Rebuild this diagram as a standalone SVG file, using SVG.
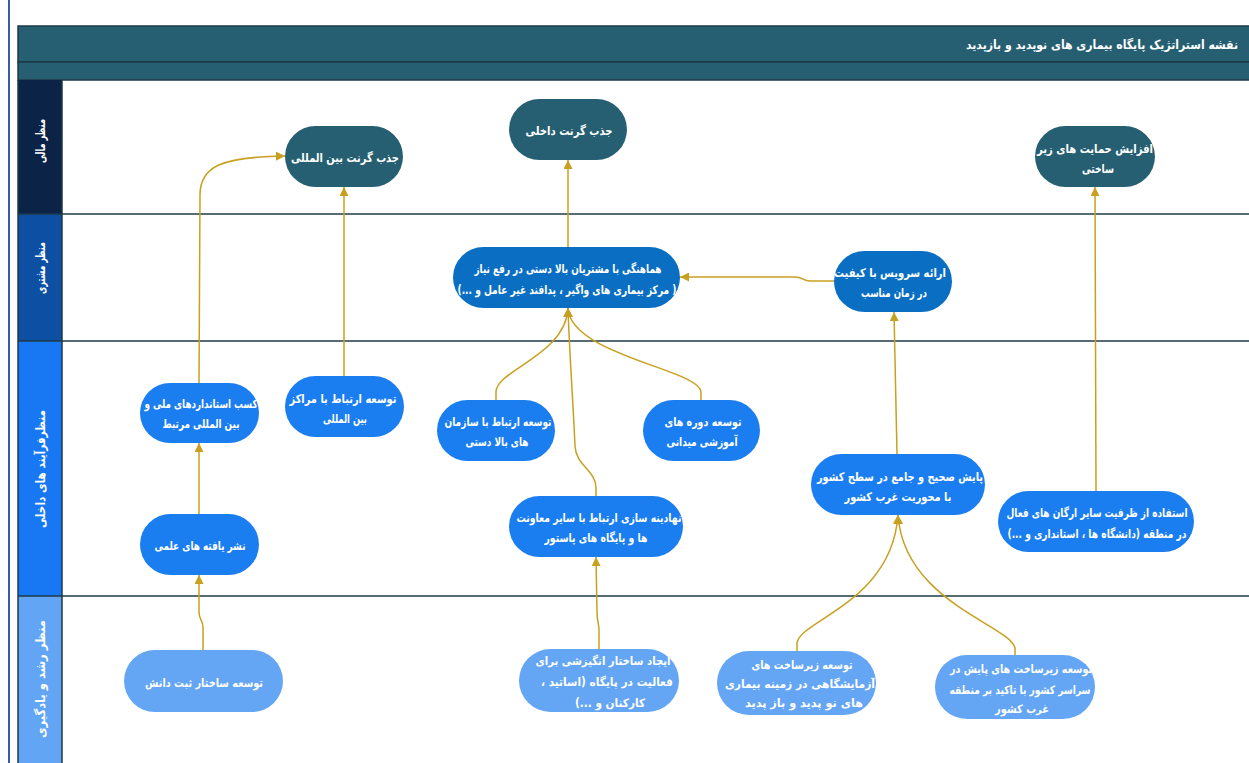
<svg xmlns="http://www.w3.org/2000/svg" width="1249" height="763" viewBox="0 0 1249 763">
<style>
.t{font-family:"DejaVu Sans Condensed","DejaVu Sans",sans-serif;font-weight:bold;fill:#fff;font-size:12px;text-anchor:middle}
.tc{font-family:"DejaVu Sans Condensed","DejaVu Sans",sans-serif;font-weight:bold;fill:#fff;font-size:11.5px;text-anchor:middle}
.lab{font-family:"DejaVu Sans Condensed","DejaVu Sans",sans-serif;font-weight:bold;fill:#fff;font-size:12.5px;text-anchor:middle}
.n1{fill:#265F72}
.n2{fill:#0A6FC2}
.n3{fill:#1A7DF0}
.n4{fill:#64A6F4}
.ln{stroke:#1E3A46;stroke-width:1.5;fill:none}
.c{fill:none;stroke:#C8A020;stroke-width:1.5;marker-end:url(#ah)}
</style>
<defs>
<marker id="ah" viewBox="0 0 10 10" refX="10" refY="5" markerWidth="9" markerHeight="9" markerUnits="userSpaceOnUse" orient="auto">
<path d="M0,0 L10,5 L0,10 z" fill="#C8A020"/>
</marker>
</defs>
<rect width="1249" height="763" fill="#fff"/>
<line x1="9" y1="0" x2="9" y2="763" stroke="#3A5BA0" stroke-width="2"/>
<g id="frame">
<rect x="18" y="26" width="1240" height="36" fill="#265F72" stroke="#1E3A46" stroke-width="1.5"/>
<rect x="18" y="62" width="1240" height="18" fill="#265F72" stroke="#1E3A46" stroke-width="1.5"/>
<text x="1238" y="49" textLength="272" lengthAdjust="spacingAndGlyphs" style="font-family:'DejaVu Sans Condensed','DejaVu Sans',sans-serif;font-weight:bold;fill:#fff;font-size:12.5px;text-anchor:end">نقشه استراتژیک پایگاه بیماری های نوپدید و بازپدید</text>
</g>
<g id="lanes">
<rect x="18" y="80" width="44" height="134" fill="#0A2346"/>
<rect x="18" y="214" width="44" height="127" fill="#0C4FA3"/>
<rect x="18" y="341" width="44" height="255" fill="#1877F2"/>
<rect x="18" y="596" width="44" height="170" fill="#62A5F4"/>
<line class="ln" x1="18" y1="80" x2="18" y2="763"/>
<line class="ln" x1="62" y1="80" x2="62" y2="763"/>
<line class="ln" x1="18" y1="214" x2="1249" y2="214"/>
<line class="ln" x1="18" y1="341" x2="1249" y2="341"/>
<line class="ln" x1="18" y1="596" x2="1249" y2="596"/>
<text class="lab" direction="rtl" textLength="44" lengthAdjust="spacingAndGlyphs" transform="translate(45,141) rotate(-90)">منظر مالی</text>
<text class="lab" direction="rtl" textLength="52" lengthAdjust="spacingAndGlyphs" transform="translate(45,268) rotate(-90)">منظر مشتری</text>
<text class="lab" direction="rtl" textLength="118" lengthAdjust="spacingAndGlyphs" transform="translate(45,469) rotate(-90)">منظرفرآیند های داخلی</text>
<text class="lab" direction="rtl" textLength="118" lengthAdjust="spacingAndGlyphs" transform="translate(45,679) rotate(-90)">منظر رشد و یادگیری</text>
</g>
<g id="connectors">
<path class="c" d="M199,514 L199,443"/>
<path class="c" d="M203,650 L203,627 C203,620 199,620 199,612 L199,575"/>
<path class="c" d="M199,383 L200,195 C200,166 222,157 285,156"/>
<path class="c" d="M344,376 L344,187"/>
<path class="c" d="M568,247 L568,160"/>
<path class="c" d="M835,281 L810,281 C803,281 803,277 795,277 L680,277"/>
<path class="c" d="M496,400 L496,392 C496,370 566,355 568,308"/>
<path class="c" d="M701,400 L701,392 C701,370 570,355 568,308"/>
<path class="c" d="M596,496 L596,488 C596,470 576,466 575,446 C573,400 569,345 568,308"/>
<path class="c" d="M599,649 L599,630 C599,624 597,622 597,612 L596,557"/>
<path class="c" d="M897,454 L894,312"/>
<path class="c" d="M797,651 L797,643 C800,620 892,602 898,515"/>
<path class="c" d="M1015,655 L1015,648 C1010,625 904,602 898,515"/>
<path class="c" d="M1096,491 L1095,187"/>
</g>
<g id="n-grant-intl"><rect class="n1" x="285" y="126" width="118" height="61" rx="30.5"/><text class="t" direction="rtl" x="345" y="162" textLength="108" lengthAdjust="spacingAndGlyphs">جذب گرنت بین المللی</text></g>
<g id="n-grant-dom"><rect class="n1" x="509" y="99" width="118" height="61" rx="30.5"/><text class="t" direction="rtl" x="569" y="135" textLength="87" lengthAdjust="spacingAndGlyphs">جذب گرنت داخلی</text></g>
<g id="n-infra-support"><rect class="n1" x="1035" y="126" width="120" height="61" rx="30.5"/><text class="t" direction="rtl" x="1095" y="153" textLength="116" lengthAdjust="spacingAndGlyphs">افزایش حمایت های زیر</text><text class="t" direction="rtl" x="1098" y="173" textLength="32" lengthAdjust="spacingAndGlyphs">ساختی</text></g>
<g id="n-coord"><rect class="n2" x="453" y="247" width="227" height="61" rx="30.5"/><text class="t" direction="rtl" x="568" y="273" textLength="187" lengthAdjust="spacingAndGlyphs">هماهنگی با مشتریان بالا دستی در رفع نیاز</text><text class="t" direction="rtl" x="567" y="294" textLength="219" lengthAdjust="spacingAndGlyphs">( مرکز بیماری های واگیر ، پدافند غیر عامل و ...)</text></g>
<g id="n-service"><rect class="n2" x="834" y="251" width="118" height="61" rx="30.5"/><text class="t" direction="rtl" x="890" y="277" textLength="112" lengthAdjust="spacingAndGlyphs">ارائه سرویس با کیفیت</text><text class="t" direction="rtl" x="894" y="297" textLength="66" lengthAdjust="spacingAndGlyphs">در زمان مناسب</text></g>
<g id="n-standards"><rect class="n3" x="140" y="383" width="119" height="60" rx="30"/><text class="t" direction="rtl" x="201" y="408" textLength="113" lengthAdjust="spacingAndGlyphs">کسب استانداردهای ملی و</text><text class="t" direction="rtl" x="201" y="428" textLength="77" lengthAdjust="spacingAndGlyphs">بین المللی مرتبط</text></g>
<g id="n-intl-centers"><rect class="n3" x="285" y="376" width="119" height="61" rx="30.5"/><text class="t" direction="rtl" x="343" y="403" textLength="107" lengthAdjust="spacingAndGlyphs">توسعه ارتباط با مراکز</text><text class="t" direction="rtl" x="345" y="423" textLength="44" lengthAdjust="spacingAndGlyphs">بین المللی</text></g>
<g id="n-upstream-org"><rect class="n3" x="437" y="400" width="118" height="61" rx="30.5"/><text class="t" direction="rtl" x="498" y="426" textLength="107" lengthAdjust="spacingAndGlyphs">توسعه ارتباط با سازمان</text><text class="t" direction="rtl" x="497" y="446" textLength="63" lengthAdjust="spacingAndGlyphs">های بالا دستی</text></g>
<g id="n-field-courses"><rect class="n3" x="643" y="400" width="117" height="61" rx="30.5"/><text class="t" direction="rtl" x="703" y="426" textLength="77" lengthAdjust="spacingAndGlyphs">توسعه دوره های</text><text class="t" direction="rtl" x="702" y="446" textLength="71" lengthAdjust="spacingAndGlyphs">آموزشی میدانی</text></g>
<g id="n-institutional"><rect class="n3" x="509" y="496" width="174" height="61" rx="30.5"/><text class="t" direction="rtl" x="599" y="522" textLength="165" lengthAdjust="spacingAndGlyphs">نهادینه سازی ارتباط با سایر معاونت</text><text class="t" direction="rtl" x="596" y="542" textLength="103" lengthAdjust="spacingAndGlyphs">ها و پایگاه های پاستور</text></g>
<g id="n-monitoring"><rect class="n3" x="811" y="454" width="174" height="61" rx="30.5"/><text class="t" direction="rtl" x="900" y="481" textLength="166" lengthAdjust="spacingAndGlyphs">پایش صحیح و جامع در سطح کشور</text><text class="t" direction="rtl" x="898" y="501" textLength="107" lengthAdjust="spacingAndGlyphs">با محوریت غرب کشور</text></g>
<g id="n-capacity"><rect class="n3" x="998" y="491" width="196" height="61" rx="30.5"/><text class="t" direction="rtl" x="1097" y="517" textLength="181" lengthAdjust="spacingAndGlyphs">استفاده از ظرفیت سایر ارگان های فعال</text><text class="t" direction="rtl" x="1097" y="538" textLength="179" lengthAdjust="spacingAndGlyphs">در منطقه (دانشگاه ها ، استانداری و ...)</text></g>
<g id="n-publish"><rect class="n3" x="140" y="514" width="119" height="61" rx="30.5"/><text class="t" direction="rtl" x="200" y="550" textLength="91" lengthAdjust="spacingAndGlyphs">نشر یافته های علمی</text></g>
<g id="n-knowledge"><rect class="n4" x="124" y="650" width="159" height="62" rx="31"/><text class="tc" direction="rtl" x="204" y="687" textLength="118" lengthAdjust="spacingAndGlyphs">توسعه ساختار ثبت دانش</text></g>
<g id="n-incentive"><rect class="n4" x="519" y="649" width="160" height="63" rx="31.5"/><text class="tc" direction="rtl" x="603" y="665" textLength="135" lengthAdjust="spacingAndGlyphs">ایجاد ساختار انگیزشی  برای</text><text class="tc" direction="rtl" x="607" y="686" textLength="132" lengthAdjust="spacingAndGlyphs">فعالیت در پایگاه (اساتید ،</text><text class="tc" direction="rtl" x="610" y="707" textLength="70" lengthAdjust="spacingAndGlyphs">کارکنان و ...)</text></g>
<g id="n-lab-infra"><rect class="n4" x="717" y="651" width="159" height="64" rx="32"/><text class="tc" direction="rtl" x="802" y="669" textLength="101" lengthAdjust="spacingAndGlyphs">توسعه زیرساخت های</text><text class="tc" direction="rtl" x="800" y="688" textLength="150" lengthAdjust="spacingAndGlyphs">آزمایشگاهی در زمینه بیماری</text><text class="tc" direction="rtl" x="804" y="707" textLength="118" lengthAdjust="spacingAndGlyphs">های نو پدید و باز پدید</text></g>
<g id="n-monitor-infra"><rect class="n4" x="935" y="655" width="160" height="64" rx="32"/><text class="tc" direction="rtl" x="1021" y="673" textLength="142" lengthAdjust="spacingAndGlyphs">توسعه زیرساخت های پایش در</text><text class="tc" direction="rtl" x="1020" y="694" textLength="141" lengthAdjust="spacingAndGlyphs">سراسر کشور  با تاکید بر منطقه</text><text class="tc" direction="rtl" x="1022" y="713" textLength="54" lengthAdjust="spacingAndGlyphs">غرب کشور</text></g>
</svg>
